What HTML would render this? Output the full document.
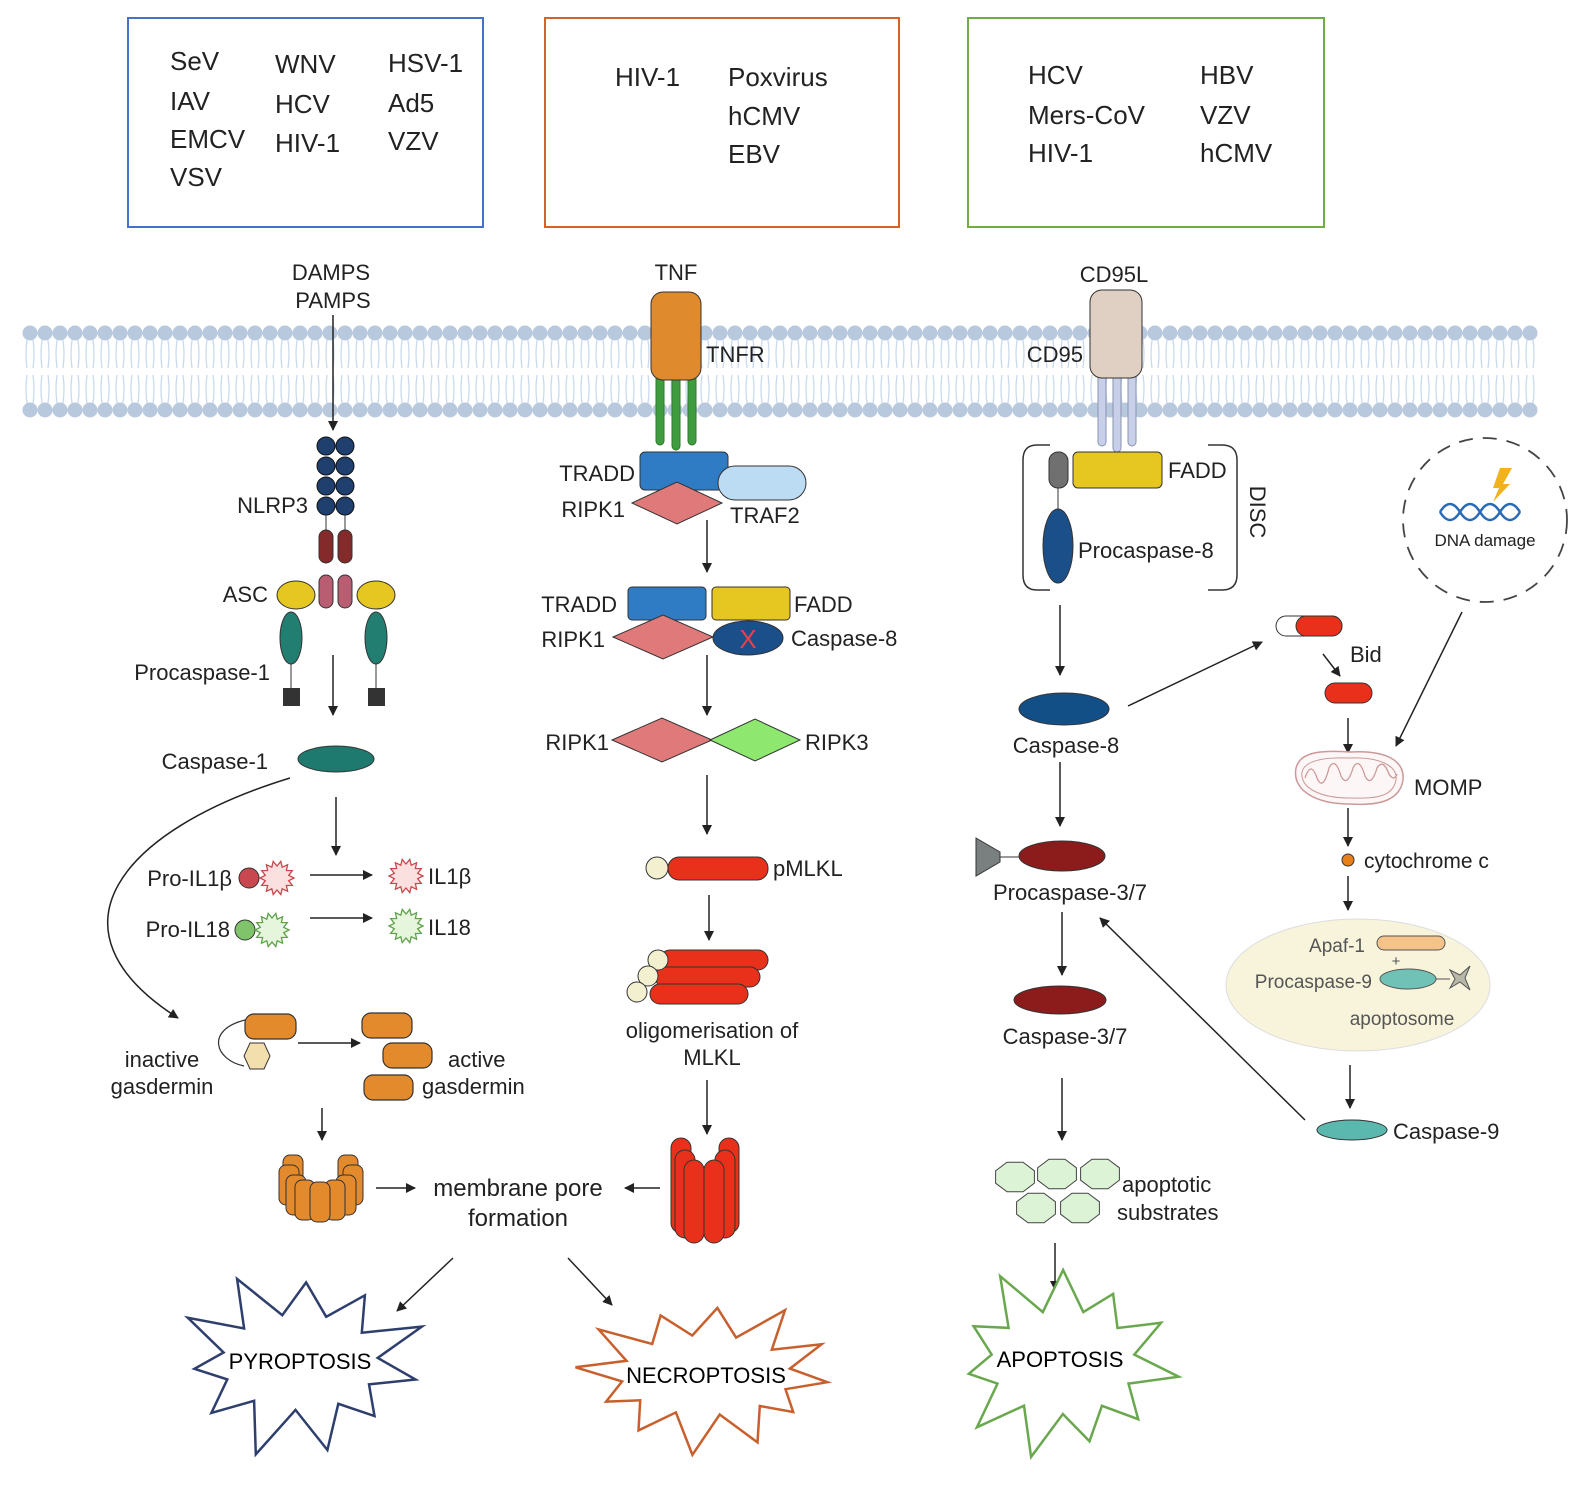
<!DOCTYPE html>
<html><head><meta charset="utf-8"><style>
html,body{margin:0;padding:0;background:#fff;overflow:hidden;width:1586px;height:1491px}
svg{display:block}
text{font-family:"Liberation Sans",sans-serif;fill:#222}
.b{font-size:26px}
.l{font-size:22px}
</style></head><body>
<svg id="s" xmlns="http://www.w3.org/2000/svg" width="1586" height="1491" viewBox="0 0 1586 1491">
<defs>
<marker id="a" markerWidth="10" markerHeight="10" refX="9" refY="5" orient="auto" markerUnits="userSpaceOnUse"><path d="M0,0 L10,5 L0,10 z" fill="#222"/></marker>
</defs>
<g id="mem"></g>
<rect x="128" y="18" width="355" height="209" fill="none" stroke="#4472c4" stroke-width="2"/>
<rect x="545" y="18" width="354" height="209" fill="none" stroke="#d0642a" stroke-width="2"/>
<rect x="968" y="18" width="356" height="209" fill="none" stroke="#70ad47" stroke-width="2"/>
<g class="b">
<text x="170" y="70">SeV</text><text x="170" y="110">IAV</text><text x="170" y="148">EMCV</text><text x="170" y="186">VSV</text>
<text x="275" y="73">WNV</text><text x="275" y="113">HCV</text><text x="275" y="152">HIV-1</text>
<text x="388" y="72">HSV-1</text><text x="388" y="112">Ad5</text><text x="388" y="150">VZV</text>
<text x="615" y="86">HIV-1</text><text x="728" y="86">Poxvirus</text><text x="728" y="125">hCMV</text><text x="728" y="163">EBV</text>
<text x="1028" y="84">HCV</text><text x="1028" y="124">Mers-CoV</text><text x="1028" y="162">HIV-1</text>
<text x="1200" y="84">HBV</text><text x="1200" y="124">VZV</text><text x="1200" y="162">hCMV</text>
</g>
<g stroke="#222" stroke-width="1.5" fill="none" marker-end="url(#a)">
<line x1="333" y1="315" x2="333" y2="430"/>
<line x1="333" y1="655" x2="333" y2="715"/>
<path d="M290,778 C120,830 40,930 178,1018"/>
<line x1="336" y1="797" x2="336" y2="855"/>
<line x1="310" y1="875" x2="372" y2="875"/>
<line x1="310" y1="918" x2="372" y2="918"/>
<line x1="298" y1="1043" x2="360" y2="1043"/>
<line x1="322" y1="1108" x2="322" y2="1140"/>
<line x1="376" y1="1188" x2="415" y2="1188"/>
<line x1="660" y1="1188" x2="625" y2="1188"/>
<line x1="453" y1="1258" x2="397" y2="1311"/>
<line x1="568" y1="1258" x2="612" y2="1305"/>
<line x1="707" y1="520" x2="707" y2="572"/>
<line x1="707" y1="655" x2="707" y2="715"/>
<line x1="707" y1="775" x2="707" y2="834"/>
<line x1="709" y1="895" x2="709" y2="940"/>
<line x1="707" y1="1080" x2="707" y2="1134"/>
<line x1="1060" y1="605" x2="1060" y2="675"/>
<line x1="1128" y1="706" x2="1262" y2="642"/>
<line x1="1060" y1="762" x2="1060" y2="826"/>
<line x1="1323" y1="654" x2="1340" y2="676"/>
<line x1="1348" y1="718" x2="1348" y2="753"/>
<line x1="1462" y1="612" x2="1396" y2="746"/>
<line x1="1348" y1="808" x2="1348" y2="846"/>
<line x1="1348" y1="876" x2="1348" y2="910"/>
<line x1="1350" y1="1065" x2="1350" y2="1108"/>
<line x1="1305" y1="1120" x2="1100" y2="918"/>
<line x1="1062" y1="912" x2="1062" y2="975"/>
<line x1="1062" y1="1078" x2="1062" y2="1140"/>
<line x1="1055" y1="1243" x2="1055" y2="1290"/>
</g>
<g class="l">
<text x="331" y="280" text-anchor="middle">DAMPS</text><text x="333" y="308" text-anchor="middle">PAMPS</text>
<text x="308" y="513" text-anchor="end">NLRP3</text><text x="268" y="602" text-anchor="end">ASC</text>
<text x="270" y="680" text-anchor="end">Procaspase-1</text><text x="268" y="769" text-anchor="end">Caspase-1</text>
<text x="232" y="886" text-anchor="end">Pro-IL1β</text><text x="230" y="937" text-anchor="end">Pro-IL18</text>
<text x="428" y="884">IL1β</text><text x="428" y="935">IL18</text>
<text x="162" y="1067" text-anchor="middle">inactive</text><text x="162" y="1094" text-anchor="middle">gasdermin</text>
<text x="448" y="1067">active</text><text x="422" y="1094">gasdermin</text>
<text x="518" y="1196" text-anchor="middle" style="font-size:24px">membrane pore</text><text x="518" y="1226" text-anchor="middle" style="font-size:24px">formation</text>
<text x="676" y="280" text-anchor="middle">TNF</text><text x="706" y="362">TNFR</text>
<text x="635" y="481" text-anchor="end">TRADD</text><text x="625" y="517" text-anchor="end">RIPK1</text><text x="730" y="523">TRAF2</text>
<text x="617" y="612" text-anchor="end">TRADD</text><text x="794" y="612">FADD</text><text x="605" y="647" text-anchor="end">RIPK1</text><text x="791" y="646">Caspase-8</text>
<text x="609" y="750" text-anchor="end">RIPK1</text><text x="805" y="750">RIPK3</text>
<text x="773" y="876">pMLKL</text>
<text x="712" y="1038" text-anchor="middle">oligomerisation of</text><text x="712" y="1065" text-anchor="middle">MLKL</text>
<text x="1114" y="282" text-anchor="middle">CD95L</text><text x="1083" y="362" text-anchor="end">CD95</text>
<text x="1168" y="478">FADD</text><text x="1078" y="558">Procaspase-8</text>
<text x="1066" y="753" text-anchor="middle">Caspase-8</text><text x="1350" y="662">Bid</text><text x="1414" y="795">MOMP</text>
<text x="1364" y="868" style="font-size:21px">cytochrome c</text>
<text x="1070" y="900" text-anchor="middle">Procaspase-3/7</text><text x="1065" y="1044" text-anchor="middle">Caspase-3/7</text>
<text x="1122" y="1192">apoptotic</text><text x="1117" y="1220">substrates</text>
<text x="1393" y="1139">Caspase-9</text>
<text x="1250" y="512" transform="rotate(90 1250 512)" text-anchor="middle">DISC</text>
</g>
<g fill="#1f3f6e" stroke="#111" stroke-width="1">
<circle cx="326" cy="446" r="9"/><circle cx="345" cy="446" r="9"/><circle cx="326" cy="466" r="9"/><circle cx="345" cy="466" r="9"/>
<circle cx="326" cy="486" r="9"/><circle cx="345" cy="486" r="9"/><circle cx="326" cy="506" r="9"/><circle cx="345" cy="506" r="9"/>
</g>
<line x1="326" y1="515" x2="326" y2="530" stroke="#333"/><line x1="345" y1="515" x2="345" y2="530" stroke="#333"/>
<rect x="319" y="530" width="14" height="33" rx="7" fill="#842a2a" stroke="#333"/><rect x="338" y="530" width="14" height="33" rx="7" fill="#842a2a" stroke="#333"/>
<rect x="319" y="575" width="14" height="33" rx="7" fill="#b85d72" stroke="#333"/><rect x="338" y="575" width="14" height="33" rx="7" fill="#b85d72" stroke="#333"/>
<ellipse cx="296" cy="595" rx="19" ry="14" fill="#e6c620" stroke="#333"/><ellipse cx="376" cy="595" rx="19" ry="14" fill="#e6c620" stroke="#333"/>
<ellipse cx="291" cy="638" rx="11" ry="26" fill="#237e72" stroke="#333"/><ellipse cx="376" cy="638" rx="11" ry="26" fill="#237e72" stroke="#333"/>
<line x1="291" y1="664" x2="291" y2="688" stroke="#333"/><line x1="376" y1="664" x2="376" y2="688" stroke="#333"/>
<rect x="283" y="688" width="17" height="18" fill="#333"/><rect x="368" y="688" width="17" height="18" fill="#333"/>
<ellipse cx="336" cy="759" rx="38" ry="13" fill="#1e7a6e" stroke="#333"/>
<circle cx="249" cy="878" r="10" fill="#c9474e" stroke="#333"/>
<circle cx="245" cy="930" r="10" fill="#7fc36a" stroke="#333"/>
<g id="sb"></g>
<g fill="#e38a2c" stroke="#333" stroke-width="1.2">
<rect x="245" y="1014" width="51" height="25" rx="9"/>
<rect x="362" y="1013" width="50" height="25" rx="9"/><rect x="383" y="1043" width="49" height="25" rx="9"/><rect x="364" y="1075" width="49" height="25" rx="9"/>
</g>
<polygon points="250,1043 264,1043 270,1056 264,1069 250,1069 244,1056" fill="#f3dfae" stroke="#333"/>
<path d="M245,1020 C205,1030 215,1060 244,1066" fill="none" stroke="#333" stroke-width="1.2"/>
<g fill="#e38a2c" stroke="#333" stroke-width="1">
<rect x="283" y="1155" width="20" height="40" rx="7"/><rect x="338" y="1155" width="20" height="40" rx="7"/>
<rect x="279" y="1165" width="20" height="40" rx="7"/><rect x="343" y="1165" width="20" height="40" rx="7"/>
<rect x="286" y="1175" width="20" height="40" rx="7"/><rect x="336" y="1175" width="20" height="40" rx="7"/>
<rect x="295" y="1180" width="20" height="40" rx="7"/><rect x="325" y="1180" width="20" height="40" rx="7"/><rect x="310" y="1182" width="20" height="40" rx="7"/>
</g>
<g stroke="#2d7a2d" stroke-width="1"><rect x="656" y="372" width="8" height="73" rx="4" fill="#3f9c3f"/><rect x="672" y="372" width="8" height="78" rx="4" fill="#3f9c3f"/><rect x="688" y="372" width="8" height="73" rx="4" fill="#3f9c3f"/></g>
<rect x="651" y="292" width="50" height="88" rx="12" fill="#e08a2e" stroke="#333"/>
<rect x="640" y="452" width="88" height="38" rx="5" fill="#2f7bc4" stroke="#333"/>
<rect x="718" y="466" width="88" height="34" rx="17" fill="#bcdcf3" stroke="#333"/>
<polygon points="632,503 677,482 722,503 677,524" fill="#e07a7a" stroke="#333"/>
<rect x="628" y="587" width="78" height="33" rx="4" fill="#2f7bc4" stroke="#333"/>
<rect x="712" y="587" width="78" height="33" rx="4" fill="#e6c620" stroke="#333"/>
<polygon points="613,637 663,615 713,637 663,659" fill="#e07a7a" stroke="#333"/>
<ellipse cx="748" cy="638" rx="35" ry="17" fill="#1a4f8a" stroke="#333"/>
<text x="748" y="648" text-anchor="middle" style="font-size:26px;fill:#e8404a">X</text>
<polygon points="612,740 662,718 712,740 662,762" fill="#e07a7a" stroke="#333"/>
<polygon points="710,740 755,719 800,740 755,761" fill="#8ee870" stroke="#333"/>
<rect x="668" y="857" width="100" height="23" rx="11" fill="#e8301a" stroke="#333"/>
<circle cx="657" cy="868" r="11" fill="#f3f0d0" stroke="#333"/>
<g stroke="#333" fill="#e8301a">
<rect x="660" y="950" width="108" height="20" rx="10"/><rect x="655" y="967" width="105" height="20" rx="10"/><rect x="650" y="984" width="98" height="20" rx="10"/>
</g>
<g stroke="#333" fill="#f3f0d0"><circle cx="658" cy="960" r="10"/><circle cx="648" cy="976" r="10"/><circle cx="637" cy="992" r="10"/></g>
<g stroke="#333" fill="#e8301a">
<rect x="671" y="1138" width="20" height="95" rx="10"/><rect x="719" y="1138" width="20" height="95" rx="10"/>
<rect x="675" y="1150" width="20" height="88" rx="10"/><rect x="715" y="1150" width="20" height="88" rx="10"/>
<rect x="684" y="1160" width="20" height="83" rx="10"/><rect x="704" y="1160" width="20" height="83" rx="10"/>
</g>
<g stroke="#8a93b0" fill="#c8cfe8"><rect x="1098" y="370" width="8" height="76" rx="4"/><rect x="1113" y="370" width="8" height="82" rx="4"/><rect x="1128" y="370" width="8" height="76" rx="4"/></g>
<rect x="1090" y="290" width="52" height="88" rx="12" fill="#e0cfc3" stroke="#333"/>
<path d="M1050,445 H1037 Q1023,445 1023,460 V575 Q1023,590 1037,590 H1050 M1208,445 H1222 Q1237,445 1237,460 V575 Q1237,590 1222,590 H1208" fill="none" stroke="#333" stroke-width="1.5"/>
<rect x="1049" y="452" width="19" height="36" rx="9" fill="#707070" stroke="#333"/>
<rect x="1073" y="452" width="89" height="36" rx="5" fill="#e6c620" stroke="#333"/>
<line x1="1058" y1="488" x2="1058" y2="510" stroke="#333"/>
<ellipse cx="1058" cy="546" rx="15" ry="37" fill="#1a4f8a" stroke="#333"/>
<ellipse cx="1064" cy="709" rx="45" ry="16" fill="#134f87" stroke="#333"/>
<rect x="1276" y="616" width="66" height="20" rx="10" fill="#fff" stroke="#333"/>
<rect x="1296" y="616" width="46" height="20" rx="10" fill="#e8301a" stroke="#333"/>
<rect x="1325" y="683" width="47" height="20" rx="10" fill="#e8301a" stroke="#333"/>
<path d="M1296,768 C1300,752 1320,750 1350,752 C1385,750 1405,760 1403,780 C1400,800 1380,806 1350,804 C1315,804 1292,790 1296,768z" fill="#fdf6f6" stroke="#c99" stroke-width="1.5"/>
<path d="M1302,772 C1305,760 1325,757 1350,758 C1380,757 1398,766 1396,780 C1393,796 1378,799 1350,798 C1320,798 1300,788 1302,772z" fill="none" stroke="#c99"/>
<path d="M1305,778 q6,-18 12,0 q6,14 12,-10 q6,-12 12,8 q6,12 12,-8 q6,-12 12,8 q6,12 12,-8 q6,-10 12,6 q5,8 8,0" fill="none" stroke="#c99" stroke-width="1.3"/>
<circle cx="1485" cy="520" r="82" fill="none" stroke="#444" stroke-width="1.8" stroke-dasharray="14,10"/>
<polygon points="1500,468 1512,468 1503,484 1510,484 1493,502 1499,488 1493,488" fill="#f2b21b"/>
<path d="M1440,512 q10,-16 20,0 t20,0 t20,0 t20,0 M1440,512 q10,16 20,0 t20,0 t20,0 t20,0" fill="none" stroke="#2a6bb5" stroke-width="2.5"/>
<text x="1485" y="546" text-anchor="middle" style="font-size:17px">DNA damage</text>
<circle cx="1348" cy="860" r="6" fill="#e8801a" stroke="#333"/>
<ellipse cx="1358" cy="985" rx="132" ry="66" fill="#f8f4dc" stroke="#ddd"/>
<text x="1365" y="952" text-anchor="end" style="font-size:19px;fill:#555">Apaf-1</text>
<rect x="1377" y="936" width="68" height="14" rx="7" fill="#f5c28a" stroke="#555"/>
<text x="1396" y="966" text-anchor="middle" style="font-size:15px;fill:#555">+</text>
<text x="1372" y="988" text-anchor="end" style="font-size:19px;fill:#555">Procaspase-9</text>
<ellipse cx="1408" cy="979" rx="28" ry="10" fill="#6fc2b5" stroke="#555"/>
<line x1="1436" y1="979" x2="1450" y2="979" stroke="#555"/>
<polygon points="1450,970 1460,975 1470,966 1465,978 1470,990 1460,982 1450,988 1455,979" fill="#b8b8a8" stroke="#555"/>
<text x="1402" y="1025" text-anchor="middle" style="font-size:19px;fill:#555">apoptosome</text>
<ellipse cx="1352" cy="1130" rx="35" ry="10" fill="#5bb8ae" stroke="#333"/>
<polygon points="976,838 1000,852 1000,862 976,876" fill="#7a8080" stroke="#333"/>
<line x1="1000" y1="857" x2="1019" y2="857" stroke="#333"/>
<ellipse cx="1062" cy="856" rx="43" ry="15" fill="#8c1c1c" stroke="#333"/>
<ellipse cx="1060" cy="1000" rx="46" ry="14" fill="#8c1c1c" stroke="#333"/>
<g id="hx"></g>
<g id="st"></g>
<text x="300" y="1369" text-anchor="middle" style="font-size:22px;fill:#000">PYROPTOSIS</text>
<text x="706" y="1383" text-anchor="middle" style="font-size:22px;fill:#000">NECROPTOSIS</text>
<text x="1060" y="1367" text-anchor="middle" style="font-size:22px;fill:#000">APOPTOSIS</text>
</svg>
<script>
var NS="http://www.w3.org/2000/svg";
function el(p,t,a){var e=document.createElementNS(NS,t);for(var k in a)e.setAttribute(k,a[k]);document.getElementById(p).appendChild(e);return e;}
var d="";
for(var x=30;x<=1540;x+=15){
  el("mem","circle",{cx:x,cy:333,r:7.5,fill:"#b8c9de"});
  el("mem","circle",{cx:x,cy:410,r:7.5,fill:"#b8c9de"});
  d+="M"+(x-3)+",340 q-2,14 0,28 M"+(x+3)+",340 q2,14 0,28 M"+(x-3)+",403 q-2,-14 0,-28 M"+(x+3)+",403 q2,-14 0,-28 ";
}
el("mem","path",{d:d,fill:"none",stroke:"#c9daf0","stroke-width":1.3});
function star(id,cx,cy,ro,ri,n,f,s){var p=[];for(var i=0;i<2*n;i++){var r=i%2?ri:ro;var a=Math.PI*i/n;p.push((cx+r*Math.cos(a)).toFixed(1)+","+(cy+r*Math.sin(a)).toFixed(1));}
 el(id,"polygon",{points:p.join(" "),fill:f,stroke:s,"stroke-width":1.3});}
star("sb",277,878,17,12,14,"#fbe0e0","#c9474e");
star("sb",406,876,17,12,14,"#fbe0e0","#c9474e");
star("sb",272,930,17,12,14,"#e6f6dc","#5fa04a");
star("sb",406,926,17,12,14,"#e6f6dc","#5fa04a");
function bigstar(id,cx,cy,rx,ry,rxi,ryi,n,s,ph){var p=[];for(var i=0;i<2*n;i++){var a=Math.PI*i/n+ph;var o=i%2==0;var f=o?(1+0.12*Math.sin(i*2.3)):1;p.push((cx+(o?rx*f:rxi)*Math.cos(a)).toFixed(1)+","+(cy+(o?ry*f:ryi)*Math.sin(a)).toFixed(1));}
 el(id,"polygon",{points:p.join(" "),fill:"#fff",stroke:s,"stroke-width":2.5});}
bigstar("st",300,1362,118,88,78,48,11,"#2e3f6e",0.2);
bigstar("st",706,1375,122,72,85,40,12,"#c8602e",0.1);
bigstar("st",1063,1362,105,92,72,52,11,"#6aa84f",-1.57);
[[1015,1177],[1057,1174],[1100,1174],[1036,1208],[1080,1208]].forEach(function(c){var p=[];for(var i=0;i<8;i++){var a=Math.PI*i/4+0.39;p.push((c[0]+21*Math.cos(a)).toFixed(1)+","+(c[1]+16*Math.sin(a)).toFixed(1));}el("hx","polygon",{points:p.join(" "),fill:"#dcf3d6",stroke:"#444"});});
</script>
</body></html>
